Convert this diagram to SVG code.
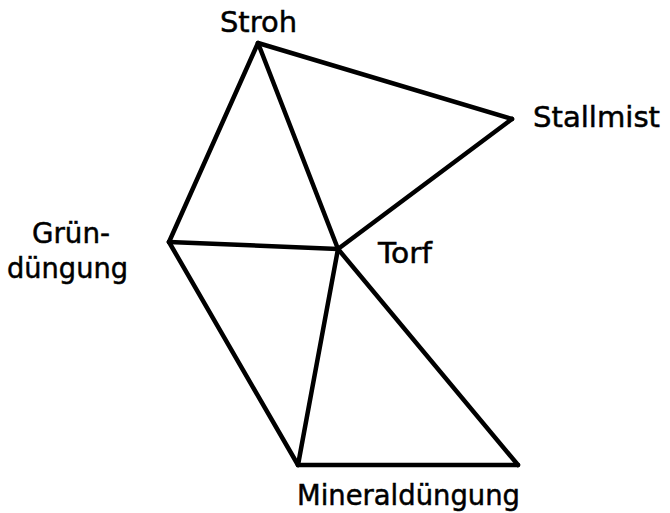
<svg xmlns="http://www.w3.org/2000/svg" width="670" height="513" viewBox="0 0 670 513">
<style>
.e{stroke:#000;stroke-width:4.5;stroke-linecap:round;fill:none}
.t{font-family:"DejaVu Sans","Liberation Sans",sans-serif;font-size:29px;fill:#000;stroke:#000;stroke-width:0.5}
</style>
<rect width="670" height="513" fill="#fff"/>
<g id="connectors">
<line class="e" x1="258" y1="43" x2="512" y2="119"/>
<line class="e" x1="512" y1="119" x2="338" y2="249"/>
<line class="e" x1="258" y1="43" x2="338" y2="249"/>
<line class="e" x1="258" y1="43" x2="169" y2="242"/>
<line class="e" x1="169" y1="242" x2="338" y2="249"/>
<line class="e" x1="169" y1="242" x2="298" y2="465"/>
<line class="e" x1="338" y1="249" x2="298" y2="465"/>
<line class="e" x1="338" y1="249" x2="518" y2="465"/>
<line class="e" x1="298" y1="465" x2="518" y2="465"/>
</g>
<g id="stroh"><text class="t" x="220" y="32" textLength="77" lengthAdjust="spacingAndGlyphs">Stroh</text></g>
<g id="stallmist"><text class="t" x="533" y="127" textLength="127" lengthAdjust="spacingAndGlyphs">Stallmist</text></g>
<g id="gruenduengung"><text class="t" x="32" y="243" textLength="78" lengthAdjust="spacingAndGlyphs">Grün-</text><text class="t" x="7" y="278" textLength="121" lengthAdjust="spacingAndGlyphs">düngung</text></g>
<g id="torf"><text class="t" x="378" y="263" textLength="54" lengthAdjust="spacingAndGlyphs">Torf</text></g>
<g id="mineralduengung"><text class="t" x="297" y="505" textLength="223" lengthAdjust="spacingAndGlyphs">Mineraldüngung</text></g>
</svg>
